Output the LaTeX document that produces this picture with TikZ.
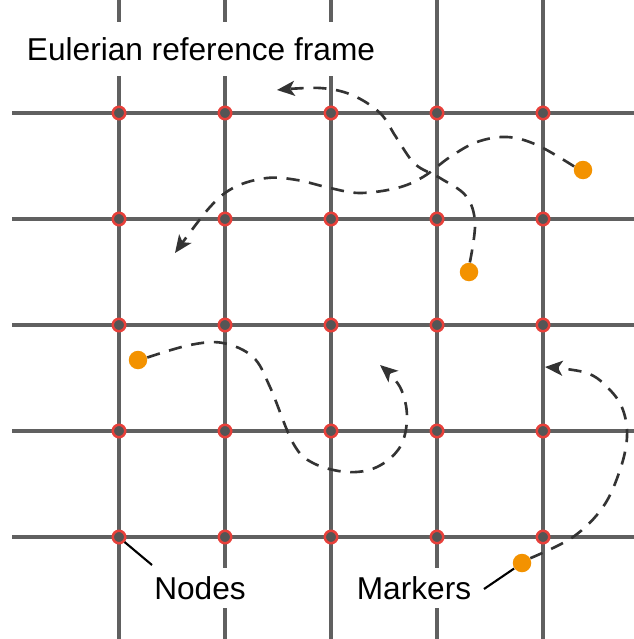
\documentclass[tikz,border=0pt]{standalone}
\usepackage{fontspec}
\setmainfont{Liberation Sans}
\usetikzlibrary{arrows.meta, positioning, calc}
\definecolor{gridgray}{HTML}{606060}
\definecolor{nodered}{HTML}{E8403A}
\definecolor{nodedark}{HTML}{555555}
\definecolor{mkorange}{HTML}{F39200}
\definecolor{trajdark}{HTML}{333333}

\begin{document}
\begin{tikzpicture}[
  x=0.02cm, y=-0.02cm,
  >={Stealth[length=10pt, width=8.5pt, inset=2.5pt]},
  gline/.style={draw=gridgray, line width=1.9pt},
  gnode/.style={circle, draw=nodered, fill=nodedark, line width=1.4pt,
    minimum size=0.25cm, inner sep=0pt},
  marker/.style={circle, fill=mkorange, minimum size=0.37cm, inner sep=0pt},
  traj/.style={draw=trajdark, line width=1.5pt, dash pattern=on 7.5pt off 5.5pt, ->},
  lead/.style={draw=black, line width=1.2pt},
  lbl/.style={fill=white, font=\fontsize{18}{21}\selectfont, inner xsep=4pt, inner ysep=5pt},
]

\useasboundingbox (0,0) rectangle (634,639);

% Eulerian grid
\foreach \i in {0,...,4} {
  \draw[gline] ({119+106*\i},0) -- ({119+106*\i},639);
  \draw[gline] (12,{113+106*\i}) -- (634,{113+106*\i});
}

% Grid nodes
\foreach \i in {1,...,5}
  \foreach \j in {1,...,5}
    \node[gnode] (g-\i-\j) at ({119+106*(\i-1)},{113+106*(\j-1)}) {};

% Markers
\node[marker] (m1) at (583,170) {};
\node[marker] (m2) at (469,272) {};
\node[marker] (m3) at (138,360) {};
\node[marker] (m4) at (522,563) {};

% Ends of the trajectories
\coordinate (t1-end) at (175,253);
\coordinate (t2-end) at (277,90);
\coordinate (t3-end) at (380,365);
\coordinate (t4-end) at (545,367);

% Trajectories
\draw[traj] plot[smooth, tension=0.6] coordinates {(m1.158) (537,145) (507,137)
  (477,142) (450,157) (423,177) (397,188) (360,193) (330,188) (297,180)
  (267,178) (235,187) (210,207) (t1-end)};
\draw[traj] plot[smooth, tension=0.6] coordinates {(m2.85) (475,223) (466,196)
  (440,178) (415,164) (396,137) (380,113) (352,95) (320,88) (t2-end)};
\draw[traj] plot[smooth, tension=0.6] coordinates {(m3.15) (190,345) (223,343)
  (253,357) (270,387) (293,443) (313,463) (347,472) (377,467) (400,447)
  (407,417) (400,387) (t3-end)};
\draw[traj] plot[smooth, tension=0.6] coordinates {(m4.30) (573,537) (603,507)
  (620,470) (627,437) (623,410) (610,390) (587,373) (t4-end)};

% Labels
\node[lbl, inner ysep=9pt] (title) at (201,49) {Eulerian reference frame};
\node[lbl] (nodes) at (200,588) {Nodes};
\node[lbl] (markers) at (414,588) {Markers};

% Leaders
\coordinate (nd-tip) at (152,565);
\coordinate (mk-tip) at (484,589);
\draw[lead] (g-1-5.-42) -- (nd-tip);
\draw[lead] (m4.215) -- (mk-tip);

\end{tikzpicture}
\end{document}
